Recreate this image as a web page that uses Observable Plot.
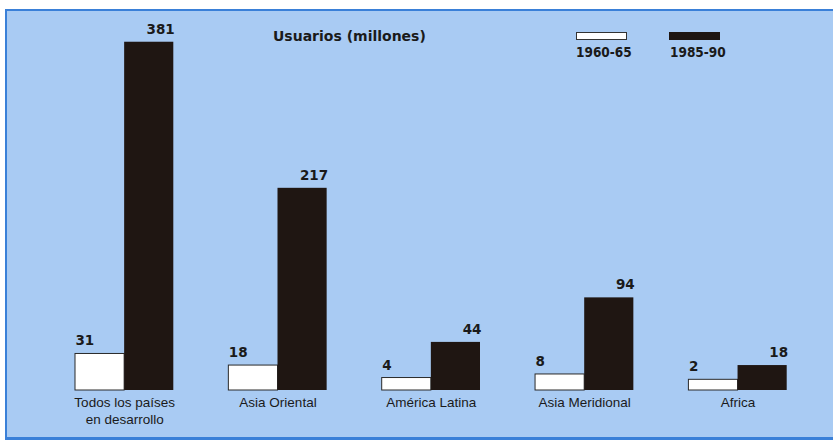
<!DOCTYPE html>
<html>
<head>
<meta charset="utf-8">
<script src="https://cdn.jsdelivr.net/npm/d3@7"></script>
<script src="https://cdn.jsdelivr.net/npm/@observablehq/plot@0.6"></script>
<style>
  body { margin: 0; background: #ffffff; }
  #wrap { position: relative; width: 833px; height: 440px; overflow: hidden; }
  #frame { position: absolute; left: 5px; top: 9px; width: 828px; height: 431px; box-sizing: border-box;
           background: #a9cbf3; border-left: 2px solid #3a80d8; border-top: 2px solid #3a80d8; border-bottom: 3px solid #3a80d8; }
  #chart { position: absolute; left: 0; top: 0; }
  .title { position: absolute; left: 273px; top: 28.5px; font: bold 14px/14px "DejaVu Sans", sans-serif; color: #1a1a1a; white-space: nowrap; }
  .sw { position: absolute; top: 32px; width: 51px; height: 8px; box-sizing: border-box; }
  .lg { position: absolute; top: 46px; font: bold 13.5px/13.5px "DejaVu Sans Condensed", "DejaVu Sans", sans-serif; color: #1a1a1a; white-space: nowrap; }
</style>
</head>
<body>
<div id="wrap">
  <div id="frame"></div>
  <div id="chart"></div>
  <div class="title">Usuarios (millones)</div>
  <div class="sw" style="left:576px;background:#ffffff;border:1px solid #333;"></div>
  <div class="lg" style="left:576px;">1960-65</div>
  <div class="sw" style="left:669px;background:#1f1612;"></div>
  <div class="lg" style="left:670px;">1985-90</div>
</div>
<script>
const regions = ["Todos los países\nen desarrollo", "Asia Oriental", "América Latina", "Asia Meridional", "Africa"];
const periods = ["1960-65", "1985-90"];
const users6065 = [31, 18, 4, 8, 2];
const users8590 = [381, 217, 44, 94, 18];
const BASE = -10;

const rowsA = regions.map((r, i) => ({region: r, period: periods[0], value: users6065[i]}));
const rowsB = regions.map((r, i) => ({region: r, period: periods[1], value: users8590[i]}));

const labelFont = {fontFamily: "DejaVu Sans", fontWeight: "bold", fontSize: 13.5, fill: "#1a1a1a", lineAnchor: "bottom"};

const chart = Plot.plot({
  width: 833,
  height: 440,
  marginLeft: 75,
  marginRight: 46.3,
  marginTop: 7,
  marginBottom: 50,
  style: {background: "transparent"},
  fx: {domain: regions, paddingInner: 0.359, paddingOuter: 0, round: false, label: null},
  x: {domain: periods, padding: 0, round: false, axis: null},
  y: {domain: [BASE, 420], axis: null},
  marks: [
    Plot.barY(rowsA, {fx: "region", x: "period", y1: () => BASE, y2: "value", fill: "#ffffff", stroke: "#2a2a2a", strokeWidth: 1}),
    Plot.barY(rowsB, {fx: "region", x: "period", y1: () => BASE, y2: "value", fill: "#1f1612"}),
    Plot.text(rowsA, {fx: "region", x: "period", y: "value", text: d => String(d.value), textAnchor: "start", dx: -24.6, dy: -8.5, ...labelFont}),
    Plot.text(rowsB, {fx: "region", x: "period", y: "value", text: d => String(d.value), textAnchor: "end", dx: 25.5, dy: -8.5, ...labelFont}),
    Plot.axisFx({anchor: "bottom", tickSize: 0, tickPadding: 4, fontSize: 13.5, fontFamily: "Liberation Sans", lineHeight: 1.28, fill: "#1a1a1a", label: null})
  ]
});
document.getElementById("chart").appendChild(chart);
</script>
</body>
</html>
